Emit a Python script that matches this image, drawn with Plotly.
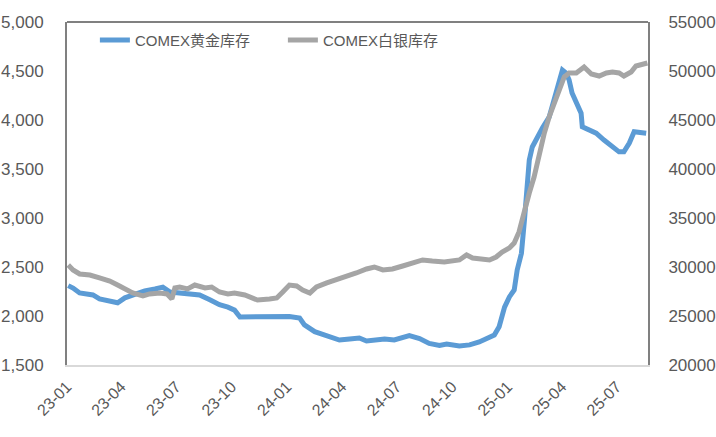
import plotly.graph_objects as go

# ── Data ──
gold_dates = [
    '2023-01-03', '2023-01-11', '2023-01-22', '2023-02-13', '2023-02-24', '2023-03-13',
    '2023-03-26', '2023-04-07', '2023-04-20', '2023-05-10', '2023-05-27', '2023-06-09',
    '2023-06-21', '2023-07-07', '2023-07-24', '2023-08-09', '2023-08-26', '2023-09-11',
    '2023-09-25', '2023-10-06', '2023-10-15', '2023-10-31', '2023-12-03', '2024-01-05',
    '2024-01-22', '2024-01-30', '2024-02-16', '2024-03-12', '2024-03-28', '2024-04-14',
    '2024-04-30', '2024-05-12', '2024-06-11', '2024-06-27', '2024-07-14', '2024-07-22',
    '2024-08-08', '2024-08-24', '2024-09-10', '2024-09-22', '2024-10-13', '2024-10-30',
    '2024-11-15', '2024-12-02', '2024-12-10', '2024-12-18', '2024-12-27', '2025-01-04',
    '2025-01-12', '2025-01-17', '2025-01-24', '2025-01-29', '2025-02-01', '2025-02-06',
    '2025-02-11', '2025-02-18', '2025-02-28', '2025-03-11', '2025-03-19', '2025-03-28',
    '2025-04-02', '2025-04-08', '2025-04-13', '2025-04-18', '2025-04-25', '2025-05-03',
    '2025-05-05', '2025-05-16', '2025-05-28', '2025-06-10', '2025-06-24', '2025-07-05',
    '2025-07-13', '2025-07-22', '2025-07-30', '2025-08-11', '2025-08-19',
]
gold_stock = [
    2310, 2285, 2235, 2215, 2175, 2155,
    2135, 2185, 2215, 2255, 2275, 2295,
    2245, 2235, 2225, 2215, 2165, 2115,
    2090, 2060, 1990, 1990, 2000, 1995,
    1980, 1910, 1840, 1790, 1755, 1765,
    1775, 1745, 1765, 1755, 1790, 1800,
    1770, 1720, 1700, 1715, 1695, 1705,
    1735, 1790, 1805, 1890, 2090, 2195,
    2265, 2470, 2640, 2980, 3285, 3590,
    3725, 3815, 3920, 4030, 4205, 4375,
    4510, 4480, 4410, 4275, 4175, 4070,
    3930, 3900, 3865, 3795, 3725, 3675,
    3675, 3765, 3880, 3870, 3865,
]

silver_dates = [
    '2023-01-03', '2023-01-11', '2023-01-22', '2023-02-08', '2023-02-24', '2023-03-13',
    '2023-03-26', '2023-04-07', '2023-04-20', '2023-05-07', '2023-05-18', '2023-06-04',
    '2023-06-16', '2023-06-24', '2023-06-29', '2023-07-07', '2023-07-20', '2023-08-01',
    '2023-08-18', '2023-08-29', '2023-09-11', '2023-09-25', '2023-10-06', '2023-10-23',
    '2023-10-31', '2023-11-13', '2023-12-03', '2023-12-15', '2023-12-25', '2024-01-05',
    '2024-01-17', '2024-01-27', '2024-02-08', '2024-02-19', '2024-03-07', '2024-03-23',
    '2024-04-09', '2024-04-25', '2024-05-12', '2024-05-25', '2024-06-08', '2024-06-24',
    '2024-07-11', '2024-07-22', '2024-08-13', '2024-08-29', '2024-09-18', '2024-10-13',
    '2024-10-25', '2024-11-04', '2024-11-15', '2024-12-02', '2024-12-13', '2024-12-23',
    '2025-01-04', '2025-01-12', '2025-01-20', '2025-01-29', '2025-02-06', '2025-02-14',
    '2025-02-23', '2025-03-03', '2025-03-11', '2025-03-19', '2025-03-28', '2025-04-05',
    '2025-04-13', '2025-04-25', '2025-05-08', '2025-05-20', '2025-06-02', '2025-06-14',
    '2025-06-24', '2025-07-05', '2025-07-13', '2025-07-25', '2025-08-02', '2025-08-16',
    '2025-08-21',
]
silver_stock = [
    30205, 29700, 29290, 29180, 28880, 28570,
    28160, 27760, 27350, 27040, 27250, 27350,
    27250, 26740, 27860, 27960, 27760, 28160,
    27860, 27960, 27450, 27250, 27350, 27140,
    26940, 26630, 26740, 26840, 27450, 28160,
    28060, 27650, 27350, 27960, 28370, 28680,
    29080, 29390, 29800, 30000, 29700, 29800,
    30100, 30310, 30720, 30610, 30510, 30720,
    31230, 30920, 30820, 30720, 31020, 31530,
    31940, 32450, 33570, 35820, 37550, 39180,
    41630, 43670, 45310, 46730, 48060, 49390,
    49800, 49800, 50410, 49700, 49490, 49800,
    49900, 49800, 49490, 49900, 50510, 50720,
    50820,
]

x_ticks = ['2023-01-01', '2023-04-01', '2023-07-01', '2023-10-01',
           '2024-01-01', '2024-04-01', '2024-07-01', '2024-10-01',
           '2025-01-01', '2025-04-01', '2025-07-01']

FONT = 'Liberation Sans, Noto Sans CJK SC, sans-serif'
TXT = '#595959'

fig = go.Figure()
fig.add_trace(go.Scatter(x=gold_dates, y=gold_stock, name='COMEX黄金库存',
                         mode='lines', line=dict(color='#5B9BD5', width=5)))
fig.add_trace(go.Scatter(x=silver_dates, y=silver_stock, name='COMEX白银库存',
                         mode='lines', line=dict(color='#A5A5A5', width=5),
                         yaxis='y2'))

fig.update_layout(
    width=716, height=437,
    margin=dict(l=67, r=68, t=22, b=72),
    paper_bgcolor='white', plot_bgcolor='white',
    font=dict(family=FONT, size=16, color=TXT),
    showlegend=True,
    legend=dict(orientation='h', x=0.048, y=0.995, xanchor='left', yanchor='top',
                bgcolor='rgba(0,0,0,0)', font=dict(size=15, color=TXT),
                entrywidth=143, entrywidthmode='pixels', tracegroupgap=0),
    xaxis=dict(type='date', range=['2023-01-01', '2025-08-22'],
               tickvals=x_ticks, tickformat='%y-%m', tickangle=-45,
               showgrid=False, zeroline=False, showline=True, automargin=False,
               linecolor='#D9D9D9', linewidth=2, ticks='',
               ticklabelstandoff=4, tickfont=dict(size=16, color=TXT)),
    yaxis=dict(range=[1500, 5000], dtick=500, tickformat=',',
               showgrid=False, zeroline=False, showline=True, automargin=False,
               linecolor='#808080', linewidth=2, ticks='',
               ticklabelstandoff=18, tickfont=dict(size=17, color=TXT)),
    yaxis2=dict(range=[20000, 55000], dtick=5000, tickformat='d',
                overlaying='y', side='right', automargin=False,
                showgrid=False, zeroline=False, showline=True,
                linecolor='#808080', linewidth=2, ticks='',
                ticklabelstandoff=15, tickfont=dict(size=17, color=TXT)),
)

# top border of the plot frame
fig.add_shape(type='line', xref='paper', yref='paper', x0=0, x1=1, y0=1, y1=1,
              line=dict(color='#808080', width=2))

# drop the browser's default 8px body margin so the figure fills the window
fig.write_html('out.html', config={'displayModeBar': False},
               post_script="document.body.style.margin='0';")
